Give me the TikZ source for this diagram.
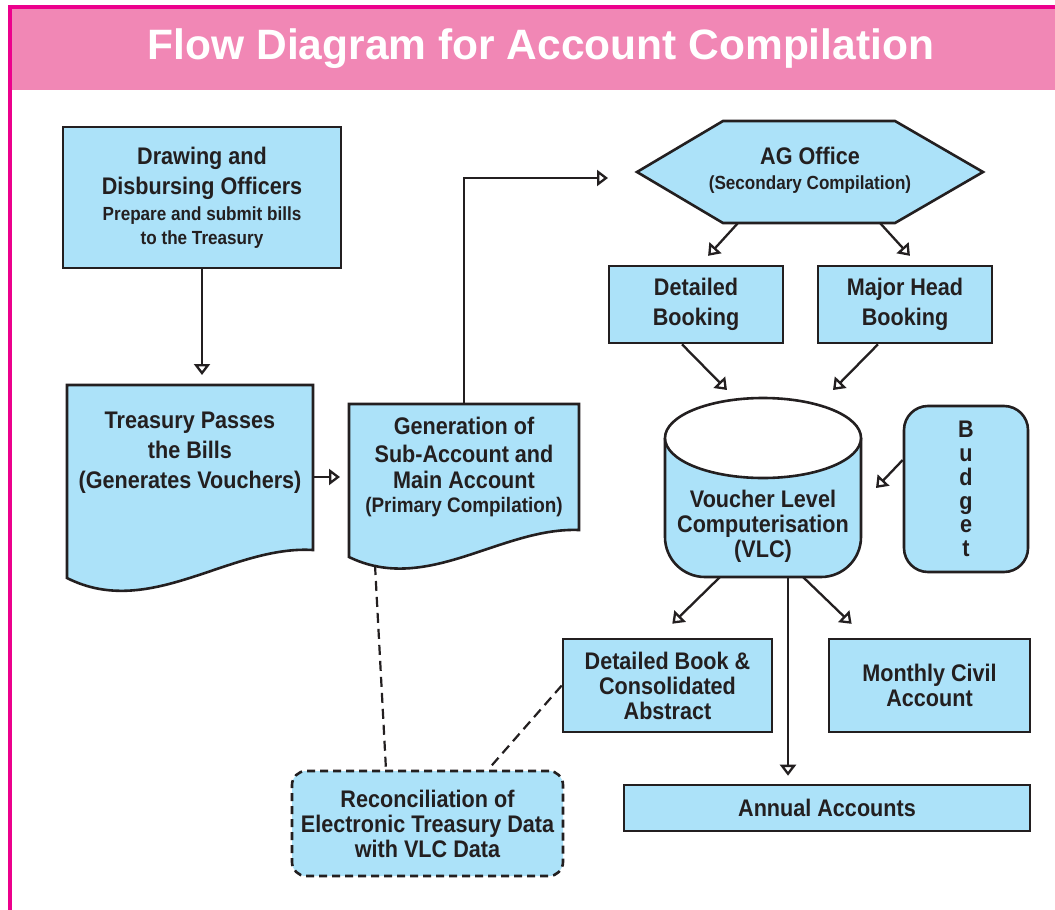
\documentclass[tikz,border=0pt]{standalone}
\usepackage{fontspec}
\setmainfont{Liberation Sans}[FakeStretch=0.9]
\newfontfamily\titlefont{Liberation Sans}
\usetikzlibrary{arrows.meta, calc}
\definecolor{boxblue}{RGB}{172,226,249}
\definecolor{ink}{RGB}{35,31,32}
\definecolor{hdrpink}{RGB}{241,135,181}
\definecolor{hdrline}{RGB}{236,0,140}
\newcommand{\mainsize}{\bfseries\fontsize{24}{25}\selectfont}
\newcommand{\widesize}{\bfseries\fontsize{24}{30}\selectfont}
\newcommand{\subsize}{\bfseries\fontsize{19}{24}\selectfont}
\tikzset{
    procbox/.style={rectangle, draw=ink, fill=boxblue, line width=2.6pt,
                    align=center, text=ink, inner sep=0pt, font=\mainsize},
    outline/.style={draw=ink, fill=boxblue, line width=2.6pt},
    txt/.style={align=center, text=ink, inner sep=0pt, font=\mainsize},
    wide/.style={font=\widesize},
    recbox/.style={procbox, rounded corners=14pt, dash pattern=on 8pt off 5pt},
    arrow/.style={-{Triangle[open, length=11pt, width=16pt]}, line width=2.3pt, draw=ink},
    dashlink/.style={line width=2.2pt, draw=ink, dash pattern=on 10pt off 6pt},
}

\begin{document}
\begin{tikzpicture}[x=1pt, y=-1pt]

    \useasboundingbox (0,0) rectangle (1055,910);
    \fill[white] (0,0) rectangle (1055,910);

    % Header band
    \fill[hdrpink] (10,7) rectangle (1055,90);
    \draw[hdrline, line width=3.5pt] (10,910) -- (10,7) -- (1055,7);
    \node[font=\titlefont\bfseries\fontsize{42.5}{44}\selectfont, text=white]
        (title) at (541,48.5) {Flow Diagram for Account Compilation};

    % Drawing and Disbursing Officers
    \node[procbox, wide, minimum width=278pt, minimum height=141pt] (ddo) at (202,197.5)
        {Drawing and\\Disbursing Officers\\[-4pt]
         {\subsize Prepare and submit bills}\\[-6pt]{\subsize to the Treasury}};

    % Treasury (document shape)
    \draw[outline] (67,385) -- (313,385) -- (313,550)
        .. controls (230,545) and (150,620) .. (67,578) -- cycle;
    \node[txt, wide] (treas) at (190,453) {Treasury Passes\\the Bills\\(Generates Vouchers)};
    \coordinate (treasN) at (202,385);
    \coordinate (treasE) at (313,477);

    % Generation of accounts (document shape)
    \draw[outline] (349,404) -- (579,404) -- (579,530)
        .. controls (501,527) and (427,595) .. (349,557) -- cycle;
    \node[txt] (gen) at (464,467)
        {Generation of\\[3pt]Sub-Account and\\[1pt]Main Account\\[-1pt]
         {\bfseries\fontsize{21}{24}\selectfont (Primary Compilation)}};
    \coordinate (genW) at (349,477);
    \coordinate (genN) at (464,404);
    \coordinate (genS) at (375,565);

    % AG Office (hexagon)
    \draw[outline] (637,172) -- (723,121) -- (895,121) -- (983,172)
        -- (895,223) -- (723,223) -- cycle;
    \node[txt] (ag) at (810,170) {AG Office\\{\subsize (Secondary Compilation)}};
    \coordinate (agW) at (637,178);
    \coordinate (agSW) at (738,223);
    \coordinate (agSE) at (880,223);

    % Bookings
    \node[procbox, wide, minimum width=174pt, minimum height=77pt] (detb) at (696,304.5)
        {Detailed\\Booking};
    \node[procbox, wide, minimum width=174pt, minimum height=77pt] (mhb) at (905,304.5)
        {Major Head\\Booking};

    % VLC drum
    \draw[outline, rounded corners=40pt] (665,438) -- (665,577) -- (861,577) -- (861,438);
    \draw[outline, fill=white] (763,438) ellipse (98pt and 40pt);
    \node[txt] (vlc) at (763,526) {Voucher Level\\Computerisation\\(VLC)};
    \coordinate (vlcNW) at (727,390);
    \coordinate (vlcNE) at (833,390);
    \coordinate (vlcE) at (876,488);
    \coordinate (vlcS1) at (720,577);
    \coordinate (vlcS2) at (788,577);
    \coordinate (vlcS3) at (803,577);

    % Budget
    \node[procbox, rounded corners=24pt, minimum width=124pt, minimum height=166pt,
          font=\bfseries\fontsize{24}{23.8}\selectfont] (budget) at (966,489)
        {B\\u\\d\\g\\e\\t};

    % Outputs
    \node[procbox, minimum width=209pt, minimum height=93pt] (dbook) at (667.5,685.5)
        {Detailed Book \&\\Consolidated\\Abstract};
    \node[procbox, minimum width=201pt, minimum height=93pt] (mca) at (929.5,685.5)
        {Monthly Civil\\Account};
    \node[procbox, minimum width=406pt, minimum height=46pt] (annual) at (827,808)
        {Annual Accounts};

    % Reconciliation
    \node[recbox, minimum width=271pt, minimum height=105pt] (recon) at (427.5,823.5)
        {Reconciliation of\\Electronic Treasury Data\\with VLC Data};

    % Flow arrows
    \draw[arrow, shorten >=10pt] (ddo.south) -- (treasN);
    \draw[arrow, shorten >=9pt] (treasE) -- (genW);
    \draw[arrow, shorten >=29pt] (genN) |- (agW);
    \draw[arrow, shorten >=12pt] (agSW) -- ([xshift=4pt]detb.north);
    \draw[arrow, shorten >=12pt] (agSE) -- ([xshift=13pt]mhb.north);
    \draw[arrow] ([xshift=-14pt]detb.south) -- (vlcNW);
    \draw[arrow] ([xshift=-27pt]mhb.south) -- (vlcNE);
    \draw[arrow] ([yshift=29pt]budget.west) -- (vlcE);
    \draw[arrow, shorten >=20pt] (vlcS1) -- ([xshift=-9.5pt]dbook.north);
    \draw[arrow, shorten >=20pt] (vlcS3) -- ([xshift=-63.5pt]mca.north);
    \draw[arrow, shorten >=8pt] (vlcS2) -- (vlcS2 |- annual.north);

    % Reconciliation links
    \draw[dashlink] (genS) -- ([xshift=-41.5pt]recon.north);
    \draw[dashlink] (dbook.west) -- ([xshift=60.5pt]recon.north);

\end{tikzpicture}
\end{document}
